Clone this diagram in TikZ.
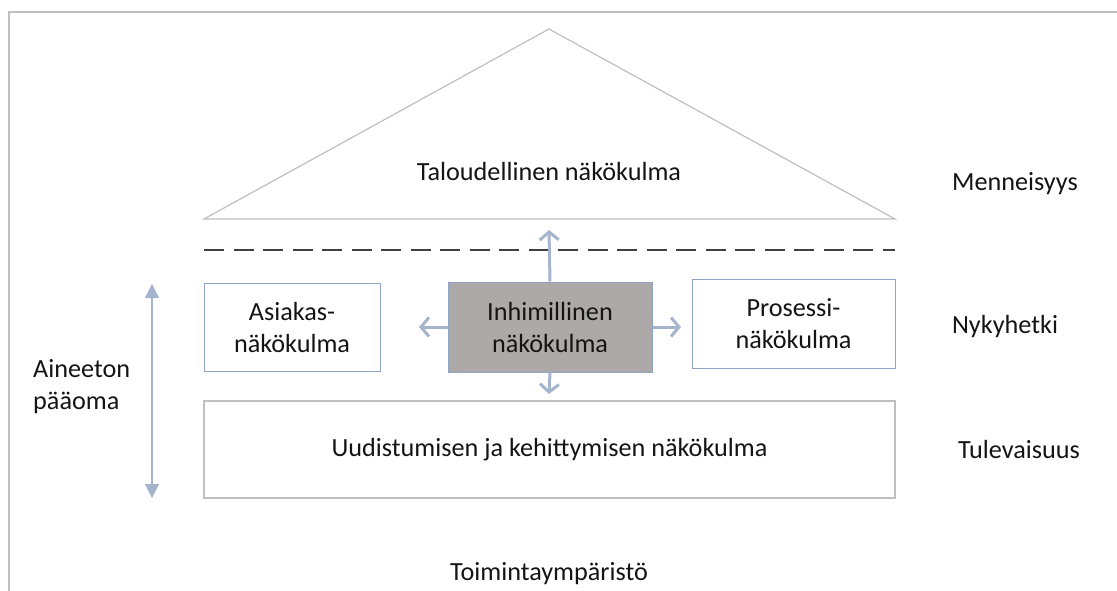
\documentclass[tikz,border=0pt]{standalone}
\usepackage{fontspec}
\setmainfont{Carlito}
\usetikzlibrary{arrows.meta}
\definecolor{framegray}{HTML}{BFBFBF}
\definecolor{boxblue}{HTML}{8FA3C4}
\definecolor{arrowblue}{HTML}{A5B5CE}
\definecolor{centerfill}{HTML}{ADA9A8}
\definecolor{textdark}{HTML}{141414}
\definecolor{dashdark}{HTML}{3F3F3F}
\tikzset{
  lbl/.style={font=\fontsize{26.2}{32}\selectfont, text=textdark, align=center, inner sep=0pt},
  viewbox/.style={draw=boxblue, line width=1pt, inner sep=0pt},
  flowarrow/.style={draw=arrowblue, line width=3pt, -{Straight Barb[length=8pt,width=19pt,line width=3pt]}},
  spanarrow/.style={draw=arrowblue, line width=1.2pt, {Triangle[length=14pt,width=14pt]}-{Triangle[length=14pt,width=14pt]}}
}
\begin{document}
\begin{tikzpicture}[x=1pt,y=-1pt]
\useasboundingbox (0,0) rectangle (1117,591);
% outer frame: top and left edges only
\draw[framegray, line width=1.5pt] (9,591) -- (9,12) -- (1117,12);

% roof
\draw[framegray, line width=1.2pt] (204,219) -- (549,29) -- (895,219) -- cycle;
\node[lbl] (talous) at (549,172) {Taloudellinen näkökulma};

% dashed separator
\draw[dashdark, line width=1.3pt, dash pattern=on 20pt off 9.5pt] (204,250) -- (895,250);

% three middle boxes
\node[viewbox, minimum width=176pt, minimum height=88pt] (asiakas) at (292,327) {};
\node[lbl] at (asiakas) {Asiakas-\\näkökulma};
\node[viewbox, fill=centerfill, minimum width=204pt, minimum height=90pt] (inhim) at (550,327) {};
\node[lbl] at (inhim) {Inhimillinen\\näkökulma};
\node[viewbox, minimum width=203pt, minimum height=89pt] (prosessi) at (793.5,323.5) {};
\node[lbl] at (prosessi) {Prosessi-\\näkökulma};

% bottom box
\node[draw=framegray, line width=1.2pt, minimum width=691pt, minimum height=97pt, inner sep=0pt] (uudist) at (549.5,449.5) {};
\node[lbl] at (uudist) {Uudistumisen ja kehittymisen näkökulma};

% arrows from the central box
\coordinate (upEnd) at (549,230);
\coordinate (downEnd) at (549,394);
\coordinate (leftEnd) at (419,327);
\coordinate (rightEnd) at (681,327);
\draw[flowarrow] (inhim.north) -- (upEnd);
\draw[flowarrow] (inhim.south) -- (downEnd);
\draw[flowarrow] (inhim.west) -- (leftEnd);
\draw[flowarrow] (inhim.east) -- (rightEnd);

% intangible capital span
\coordinate (spanTop) at (152,284);
\coordinate (spanBot) at (152,498);
\draw[spanarrow] (spanTop) -- (spanBot);
\node[lbl, align=left, anchor=west] (aineeton) at (33,387) {Aineeton\\pääoma};

% time labels
\node[lbl] (menn) at (1015,184) {Menneisyys};
\node[lbl] (nyky) at (1005,327) {Nykyhetki};
\node[lbl] (tulev) at (1019,449) {Tulevaisuus};

\node[lbl] (toiminta) at (549,574) {Toimintaympäristö};
\end{tikzpicture}
\end{document}
